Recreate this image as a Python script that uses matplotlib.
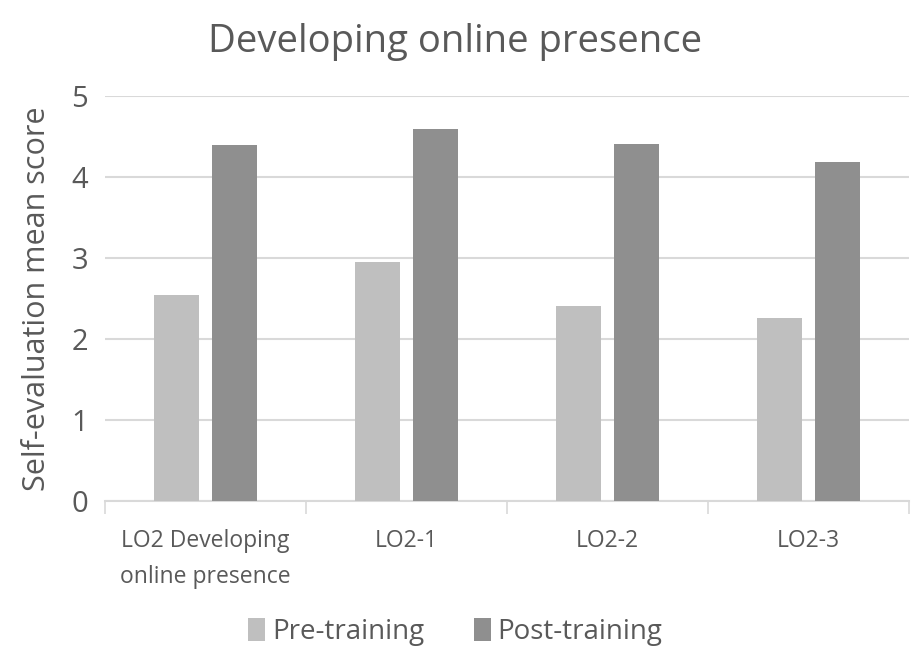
import numpy as np
import matplotlib
from matplotlib import pyplot as plt
from matplotlib.ticker import FixedLocator

matplotlib.use('Agg')
plt.rcParams['font.family'] = ['Open Sans', 'DejaVu Sans']

categories = ['LO2 Developing\nonline presence', 'LO2-1', 'LO2-2', 'LO2-3']
pre_training = [2.55, 2.95, 2.41, 2.26]
post_training = [4.40, 4.60, 4.41, 4.19]

text_col = '#595959'
grid_col = '#d9d9d9'

fig = plt.figure(figsize=(9.11, 6.55), dpi=100)
ax = fig.add_axes([0.115, 0.235, 0.883, 0.618])

x = np.arange(len(categories))
w = 0.224
gap = 0.065
ax.bar(x - (w + gap) / 2, pre_training, w, color='#bfbfbf', label='Pre-training', zorder=3)
ax.bar(x + (w + gap) / 2, post_training, w, color='#8f8f8f', label='Post-training', zorder=3)

ax.set_xlim(-0.5, len(categories) - 0.5)
ax.set_ylim(0, 5)
ax.set_yticks(range(6))
ax.yaxis.grid(True, color=grid_col, linewidth=1.5, zorder=0)
ax.set_axisbelow(True)

for s in ['top', 'right', 'left']:
    ax.spines[s].set_visible(False)
ax.spines['bottom'].set_color(grid_col)
ax.spines['bottom'].set_linewidth(1.5)

ax.set_xticks(x)
ax.set_xticklabels(categories, fontsize=16.5, color=text_col, linespacing=1.7)
ax.tick_params(axis='x', which='major', length=0, pad=20)
ax.xaxis.set_minor_locator(FixedLocator(np.arange(-0.5, len(categories), 1.0)))
ax.tick_params(axis='x', which='minor', length=9, color=grid_col, width=1.2)
ax.tick_params(axis='y', length=0, labelsize=21, labelcolor=text_col, pad=12)

ax.set_ylabel('Self-evaluation mean score', fontsize=22, color=text_col, labelpad=14)
fig.suptitle('Developing online presence', fontsize=27.5, color=text_col, y=0.965)

fig.legend(loc='lower center', bbox_to_anchor=(0.5, -0.025), ncol=2, frameon=False,
           fontsize=20, labelcolor=text_col, handlelength=0.6, handleheight=0.9,
           handletextpad=0.25, columnspacing=1.8)

fig.savefig('out.png', dpi=100)
